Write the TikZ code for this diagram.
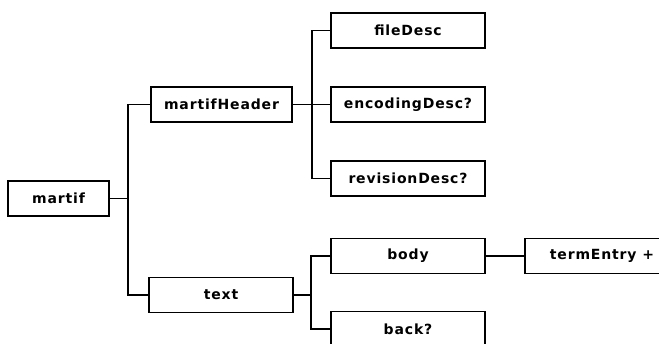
\documentclass[tikz,border=0pt]{standalone}
\usepackage{fontspec}
\setmainfont{DejaVu Sans}[LetterSpace=6]
\usetikzlibrary{positioning}
\begin{document}
\begin{tikzpicture}[
  x=1pt, y=-1pt,
  block/.style={rectangle, draw, line width=1.5pt, inner sep=0pt, minimum height=35pt, font=\bfseries\fontsize{14}{16}\selectfont},
  link/.style={line width=1.8pt},
]
\useasboundingbox (0,0) rectangle (659,343);
\clip (0,0) rectangle (659,343);
\node[block, minimum width=101pt] (martif) at (58.5,198.5) {martif};
\node[block, minimum width=141pt] (hdr) at (221.5,104.5) {martifHeader};
\node[block, minimum width=144pt] (text) at (221,295) {text};

\node[block, minimum width=154pt] (fileDesc) at (408,30.5) {fileDesc};
\node[block, minimum width=154pt] (encDesc) at (408,104.5) {encodingDesc?};
\node[block, minimum width=154pt] (revDesc) at (408,178.5) {revisionDesc?};
\node[block, minimum width=154pt] (body) at (408,256) {body};
\node[block, minimum width=154pt] (back) at (408,329) {back?};
\node[block, minimum width=154pt] (entry) at (602,256) {termEntry +};

\draw[link] (martif.east) -- ++(18,0) |- (hdr.west);
\draw[link] (martif.east) -- ++(18,0) |- (text.west);
\draw[link] (hdr.east) -- ++(19,0) |- (fileDesc.west);
\draw[link] (hdr.east) -- (encDesc.west);
\draw[link] (hdr.east) -- ++(19,0) |- (revDesc.west);
\draw[link] (text.east) -- ++(17,0) |- (body.west);
\draw[link] (text.east) -- ++(17,0) |- (back.west);
\draw[link] (body.east) -- (entry.west);
\end{tikzpicture}
\end{document}
